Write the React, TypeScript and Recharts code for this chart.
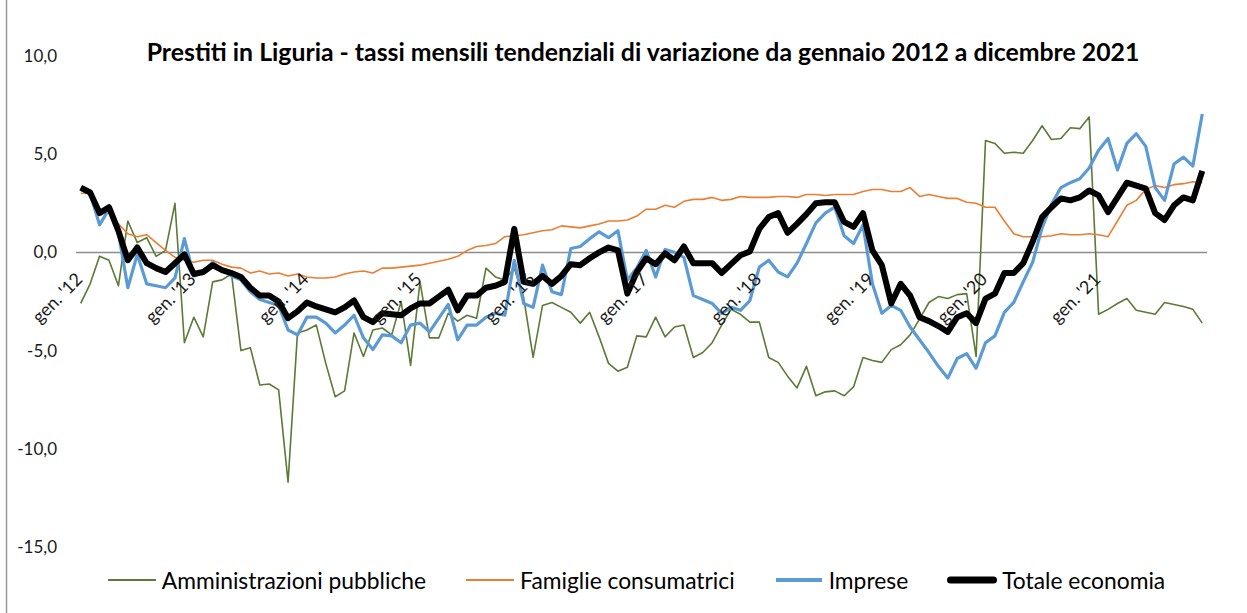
import React from 'react';
import { LineChart, Line, XAxis, YAxis, ReferenceLine, Legend } from 'recharts';

const monthNames = ['gen.', 'feb.', 'mar.', 'apr.', 'mag.', 'giu.', 'lug.', 'ago.', 'set.', 'ott.', 'nov.', 'dic.'];
const years = ['12', '13', '14', '15', '16', '17', '18', '19', '20', '21'];
const categories = years.flatMap((y) => monthNames.map((m) => `${m} '${y}`));
const tickLabels = years.map((y) => `gen. '${y}`);
const yTicks = [-15, -10, -5, 0, 5, 10];

const amministrazioni = [
  -2.6, -1.6, -0.2, -0.4, -1.7, 1.6, 0.5, 0.75, -0.2, 0.1, 2.5, -4.6,
  -3.3, -4.3, -1.5, -1.4, -1.1, -5.0, -4.85, -6.75, -6.7, -7.0, -11.7, -4.1,
  -3.95, -3.7, -5.65, -7.35, -7.05, -4.1, -5.3, -3.95, -3.85, -4.2, -2.5, -5.75,
  -1.5, -4.35, -4.35, -3.1, -3.5, -3.2, -3.35, -0.8, -1.25, -1.4, -0.8, -2.3,
  -5.35, -2.7, -2.55, -2.8, -3.05, -3.6, -3.05, -4.3, -5.65, -6.05, -5.85, -4.25,
  -4.3, -3.3, -4.3, -3.8, -3.7, -5.35, -5.1, -4.6, -3.7, -2.9, -3.15, -3.55,
  -3.55, -5.35, -5.6, -6.3, -6.9, -5.8, -7.3, -7.1, -7.05, -7.3, -6.85, -5.35,
  -5.5, -5.6, -4.95, -4.7, -4.2, -3.4, -2.55, -2.25, -2.35, -2.15, -2.1, -5.3,
  5.7, 5.55, 5.05, 5.1, 5.05, 5.7, 6.45, 5.75, 5.8, 6.35, 6.3, 6.9,
  -3.15, -2.9, -2.6, -2.35, -2.95, -3.05, -3.15, -2.55, -2.65, -2.75, -2.9, -3.6,
];

const famiglie = [
  3.0, 3.05, 2.1, 2.0, 1.45, 0.95, 0.8, 0.9, 0.5, 0.1, -0.25, -0.4,
  -0.5, -0.4, -0.4, -0.6, -0.75, -0.8, -1.05, -0.95, -1.1, -1.05, -1.2, -1.1,
  -1.25, -1.3, -1.3, -1.25, -1.1, -1.0, -0.95, -1.05, -0.8, -0.8, -0.75, -0.7,
  -0.65, -0.55, -0.45, -0.35, -0.2, 0.1, 0.3, 0.35, 0.45, 0.8, 0.85, 0.9,
  1.0, 1.1, 1.15, 1.35, 1.3, 1.25, 1.35, 1.45, 1.6, 1.6, 1.65, 1.85,
  2.2, 2.2, 2.4, 2.3, 2.6, 2.7, 2.7, 2.8, 2.65, 2.7, 2.85, 2.8,
  2.8, 2.8, 2.85, 2.85, 2.8, 2.95, 2.95, 2.9, 2.95, 2.95, 2.95, 3.1,
  3.2, 3.2, 3.1, 3.1, 3.3, 2.85, 2.95, 2.85, 2.75, 2.75, 2.55, 2.5,
  2.3, 2.3, 1.6, 0.95, 0.8, 0.8, 0.8, 0.85, 0.95, 0.9, 0.9, 0.95,
  0.9, 0.8, 1.6, 2.4, 2.65, 3.2, 3.4, 3.3, 3.45, 3.5, 3.6, 3.55,
];

const imprese = [
  3.2, 3.0, 1.4, 2.2, 1.0, -1.8, -0.1, -1.6, -1.7, -1.8, -1.3, 0.7,
  -1.2, -1.0, -0.5, -0.9, -1.2, -1.4, -2.0, -2.4, -2.55, -2.7, -3.95, -4.2,
  -3.3, -3.3, -3.6, -4.1, -3.7, -3.2, -4.35, -4.95, -4.2, -4.25, -4.6, -3.7,
  -3.6, -4.05, -3.35, -2.65, -4.45, -3.7, -3.7, -3.3, -3.1, -3.2, -0.4, -2.6,
  -2.8, -0.65, -2.0, -2.15, 0.2, 0.3, 0.7, 1.05, 0.75, 1.1, -1.4, -0.8,
  0.1, -1.25, 0.15, 0.0, -0.25, -2.2, -2.4, -2.6, -3.1, -2.8, -2.95, -2.45,
  -0.75, -0.4, -1.0, -1.25, -0.55, 0.45, 1.5, 2.0, 2.3, 0.85, 0.45, 1.4,
  -1.6, -3.1, -2.7, -2.95, -3.8, -4.45, -5.1, -5.8, -6.4, -5.4, -5.15, -5.9,
  -4.6, -4.25, -3.05, -2.55, -1.5, -0.5, 1.25, 2.45, 3.3, 3.55, 3.75, 4.3,
  5.2, 5.8, 4.2, 5.55, 6.05, 5.4, 3.3, 2.65, 4.5, 4.85, 4.4, 7.05,
];

const totale = [
  3.3, 3.05, 2.0, 2.3, 1.1, -0.4, 0.25, -0.55, -0.8, -1.0, -0.55, -0.1,
  -1.1, -1.0, -0.65, -0.9, -1.05, -1.25, -1.8, -2.2, -2.2, -2.5, -3.35, -3.0,
  -2.55, -2.75, -2.9, -3.05, -2.8, -2.45, -3.3, -3.55, -3.1, -3.15, -3.2, -2.85,
  -2.6, -2.6, -2.25, -1.9, -2.95, -2.2, -2.2, -1.8, -1.7, -1.5, 1.2, -1.5,
  -1.6, -1.2, -1.6, -1.2, -0.6, -0.65, -0.3, 0.0, 0.25, 0.1, -2.1, -1.0,
  -0.3, -0.6, -0.05, -0.4, 0.3, -0.55, -0.55, -0.55, -1.05, -0.6, -0.15, 0.05,
  1.2, 1.8, 2.0, 1.0, 1.45, 1.95, 2.5, 2.55, 2.55, 1.55, 1.3, 2.0,
  0.1, -0.65, -2.6, -1.6, -2.2, -3.3, -3.5, -3.75, -4.05, -3.3, -3.1, -3.6,
  -2.35, -2.1, -1.05, -1.05, -0.55, 0.55, 1.8, 2.3, 2.75, 2.65, 2.8, 3.15,
  2.9, 2.05, 2.8, 3.55, 3.4, 3.25, 2.0, 1.65, 2.4, 2.8, 2.65, 4.15,
];

const data = categories.map((month, i) => ({
  month,
  amm: amministrazioni[i],
  fam: famiglie[i],
  imp: imprese[i],
  tot: totale[i],
}));

const W = 1247;
const H = 613;
const PLOT_LEFT = 76;
const PLOT_RIGHT = 1207;
const PLOT_TOP = 56;
const PLOT_BOTTOM = 547;
const Y_MIN = -15;
const Y_MAX = 10;
const XAXIS_H = 20;
const ZERO_Y = PLOT_TOP + ((PLOT_BOTTOM - PLOT_TOP) * (Y_MAX - 0)) / (Y_MAX - Y_MIN);
const HALF_STEP = (PLOT_RIGHT - PLOT_LEFT) / categories.length / 2;
const FONT = 'Lato, "Noto Sans", sans-serif';

const series = [
  { key: 'amm', name: 'Amministrazioni pubbliche', color: '#5a7a35', width: 1.6, legendWidth: 2 },
  { key: 'fam', name: 'Famiglie consumatrici', color: '#ed7d31', width: 1.6, legendWidth: 2 },
  { key: 'imp', name: 'Imprese', color: '#5b9bd5', width: 3.2, legendWidth: 4 },
  { key: 'tot', name: 'Totale economia', color: '#000000', width: 6, legendWidth: 7 },
];

const MonthTick = (props: any) => {
  const { x, payload } = props;
  const ax = x + 3;
  const ay = ZERO_Y + 28;
  return (
    <text
      x={ax}
      y={ay}
      transform={`rotate(-45 ${ax} ${ay})`}
      textAnchor="end"
      fontFamily={FONT}
      fontSize={18}
      fill="#1a1a1a"
    >
      {payload.value}
    </text>
  );
};

const LegendContent = () => (
  <div
    style={{
      display: 'flex',
      justifyContent: 'center',
      alignItems: 'center',
      gap: 38,
      height: 28,
      fontFamily: FONT,
      fontSize: 22.8,
      color: '#000',
      whiteSpace: 'nowrap',
    }}
  >
    {series.map((s) => (
      <div key={s.key} style={{ display: 'flex', alignItems: 'center' }}>
        <svg width={52} height={12} style={{ marginRight: 4 }}>
          <line
            x1={s.legendWidth / 2 + 1}
            x2={51 - s.legendWidth / 2}
            y1={6}
            y2={6}
            stroke={s.color}
            strokeWidth={s.legendWidth}
            strokeLinecap={s.key === 'tot' ? 'round' : 'butt'}
          />
        </svg>
        <span>{s.name}</span>
      </div>
    ))}
  </div>
);

export default function App() {
  return (
    <div style={{ position: 'absolute', left: 0, top: 0, width: W, height: H, background: '#fff' }}>
      <LineChart
        width={W}
        height={H}
        data={data}
        margin={{ top: PLOT_TOP, right: W - PLOT_RIGHT, bottom: H - PLOT_BOTTOM - XAXIS_H, left: 0 }}
      >
        <ReferenceLine y={0} stroke="#8c8c8c" strokeWidth={1.5} />
        <XAxis
          dataKey="month"
          ticks={tickLabels}
          interval={0}
          axisLine={false}
          tickLine={false}
          height={XAXIS_H}
          padding={{ left: HALF_STEP, right: HALF_STEP }}
          tick={<MonthTick />}
        />
        <YAxis
          width={PLOT_LEFT}
          domain={[Y_MIN, Y_MAX]}
          ticks={yTicks}
          allowDataOverflow
          axisLine={false}
          tickLine={false}
          tickSize={0}
          tickMargin={19}
          tickFormatter={(v: number) => v.toFixed(1).replace('.', ',')}
          tick={{ fontFamily: FONT, fontSize: 17, fill: '#1a1a1a' }}
        />
        {series.map((s) => (
          <Line
            key={s.key}
            type="linear"
            dataKey={s.key}
            name={s.name}
            stroke={s.color}
            strokeWidth={s.width}
            strokeLinejoin="round"
            dot={false}
            activeDot={false}
            isAnimationActive={false}
          />
        ))}
        <Legend
          content={<LegendContent />}
          wrapperStyle={{ position: 'absolute', left: 0, top: 566, bottom: 'auto', width: 1271, height: 0, overflow: 'visible' }}
        />
      </LineChart>
      <svg
        width={W}
        height={H}
        style={{ position: 'absolute', left: 0, top: 0, pointerEvents: 'none' }}
      >
        <line x1={6.5} x2={6.5} y1={0} y2={H} stroke="#999999" strokeWidth={1.5} />
        <text
          x={643}
          y={61}
          textAnchor="middle"
          fontFamily={FONT}
          fontWeight="bold"
          fontSize={24.8}
          fill="#000"
        >
          Prestiti in Liguria - tassi mensili tendenziali di variazione da gennaio 2012 a dicembre 2021
        </text>
      </svg>
    </div>
  );
}
